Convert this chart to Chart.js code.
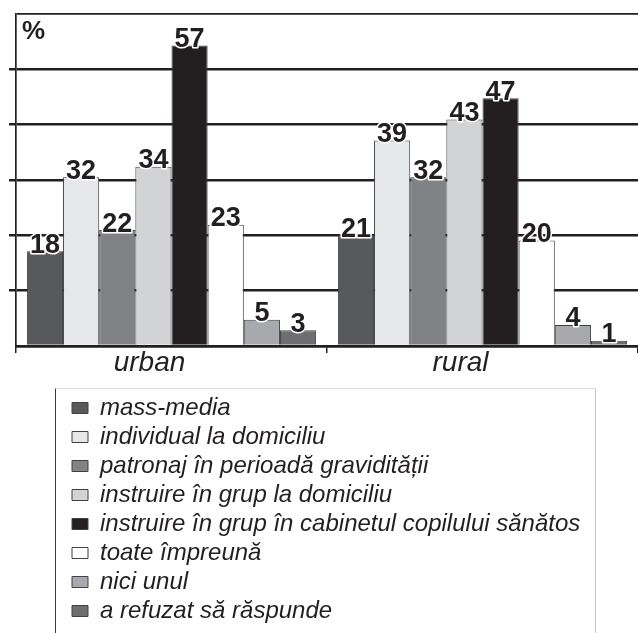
<!DOCTYPE html>
<html>
<head>
<meta charset="utf-8">
<script src="https://cdn.jsdelivr.net/npm/chart.js@4"></script>
<style>
html,body{margin:0;padding:0;background:#ffffff;}
canvas{display:block;}
</style>
</head>
<body>
<canvas id="c" width="638" height="633"></canvas>
<script>
// ---- data ----
const categories = ['urban', 'rural'];
const seriesNames = [
  'mass-media',
  'individual la domiciliu',
  'patronaj în perioadă gravidității',
  'instruire în grup la domiciliu',
  'instruire în grup în cabinetul copilului sănătos',
  'toate împreună',
  'nici unul',
  'a refuzat să răspunde'
];
const urbanValues = [18, 32, 22, 34, 57, 23, 5, 3];
const ruralValues = [21, 39, 32, 43, 47, 20, 4, 1];
const seriesColors = ['#58595b', '#e6e7e8', '#808285', '#d1d3d4', '#231f20', '#ffffff', '#a7a9ac', '#6d6e71'];
const yMax = 63;
const yStep = 10.5;
const unitLabel = '%';

const INK = '#231f20';
Chart.defaults.font.family = '"Liberation Sans", Arial, Helvetica, sans-serif';
Chart.defaults.color = INK;

const datasets = seriesNames.map((name, i) => ({
  label: name,
  data: [urbanValues[i], ruralValues[i]],
  backgroundColor: seriesColors[i],
  borderColor: '#414042',
  borderWidth: 1,
  borderSkipped: 'bottom'
}));

const valueLabels = {
  id: 'valueLabels',
  afterDatasetsDraw(chart) {
    const ctx = chart.ctx;
    ctx.save();
    ctx.font = 'bold 27px "Liberation Sans", Arial, sans-serif';
    ctx.textAlign = 'center';
    ctx.textBaseline = 'alphabetic';
    ctx.lineJoin = 'round';
    ctx.lineWidth = 3;
    ctx.strokeStyle = '#ffffff';
    ctx.fillStyle = INK;
    chart.data.datasets.forEach((ds, i) => {
      const meta = chart.getDatasetMeta(i);
      meta.data.forEach((el, j) => {
        const t = String(ds.data[j]);
        ctx.strokeText(t, el.x, el.y + 1.5);
        ctx.fillText(t, el.x, el.y + 1.5);
      });
    });
    ctx.restore();
  }
};

const decor = {
  id: 'decor',
  afterLayout(chart) {
    const lg = chart.legend;
    if (!lg) return;
    lg.left = 67;
    lg.top = 391;
    lg.right = 638;
    lg.bottom = 645;
    lg.width = lg.right - lg.left;
    lg.height = lg.bottom - lg.top;
  },
  afterDraw(chart) {
    const ctx = chart.ctx;
    const a = chart.chartArea;
    const lg = chart.legend;
    ctx.save();
    // unit label
    ctx.font = 'bold 26px "Liberation Sans", Arial, sans-serif';
    ctx.fillStyle = INK;
    ctx.textAlign = 'left';
    ctx.textBaseline = 'alphabetic';
    ctx.fillText(unitLabel, a.left + 6, a.top + 24.5);
    // legend frame
    const fl = lg.left - 11.5, ft = lg.top - 2.5, fr = 595.5;
    ctx.lineWidth = 1;
    ctx.strokeStyle = '#dcdcdc';
    ctx.beginPath(); ctx.moveTo(fl, ft); ctx.lineTo(fr, ft); ctx.stroke();
    ctx.strokeStyle = '#c8c8c8';
    ctx.beginPath(); ctx.moveTo(fr, ft); ctx.lineTo(fr, chart.height); ctx.stroke();
    ctx.strokeStyle = '#3a3a3a';
    ctx.beginPath(); ctx.moveTo(fl, ft); ctx.lineTo(fl, chart.height); ctx.stroke();
    ctx.restore();
  }
};

new Chart(document.getElementById('c'), {
  type: 'bar',
  data: { labels: categories, datasets },
  plugins: [valueLabels, decor],
  options: {
    responsive: false,
    animation: false,
    devicePixelRatio: 1,
    layout: { padding: { top: 14, left: 9, right: 0, bottom: 260 } },
    datasets: { bar: { categoryPercentage: 0.93, barPercentage: 1.0 } },
    plugins: {
      tooltip: { enabled: false },
      legend: {
        position: 'chartArea',
        fullSize: false,
        align: 'start',
        labels: {
          boxWidth: 16,
          boxHeight: 11,
          padding: 5,
          color: INK,
          font: { size: 24, style: 'italic', family: '"Liberation Sans", Arial, sans-serif' }
        }
      }
    },
    scales: {
      x: {
        type: 'category',
        offset: true,
        grid: {
          display: true,
          drawOnChartArea: false,
          drawTicks: true,
          tickLength: 7,
          offset: true,
          color: INK,
          lineWidth: 1.5
        },
        border: { display: true, color: INK, width: 2.5 },
        ticks: {
          color: INK,
          padding: -4,
          labelOffset: -22,
          maxRotation: 0,
          autoSkip: false,
          font: { size: 28, style: 'italic', lineHeight: 1, family: '"Liberation Sans", Arial, sans-serif' }
        }
      },
      y: {
        min: 0,
        max: yMax,
        ticks: { display: false, stepSize: yStep },
        grid: {
          color: INK,
          drawTicks: true,
          tickLength: 7,
          lineWidth: (c) => (c.tick && c.tick.value === yMax) ? 1.7 : 2.5,
          tickColor: (c) => (c.tick && (c.tick.value === yMax || c.tick.value === 0)) ? 'rgba(0,0,0,0)' : INK
        },
        border: { display: true, color: INK, width: 1.7 }
      }
    }
  }
});
</script>
</body>
</html>
